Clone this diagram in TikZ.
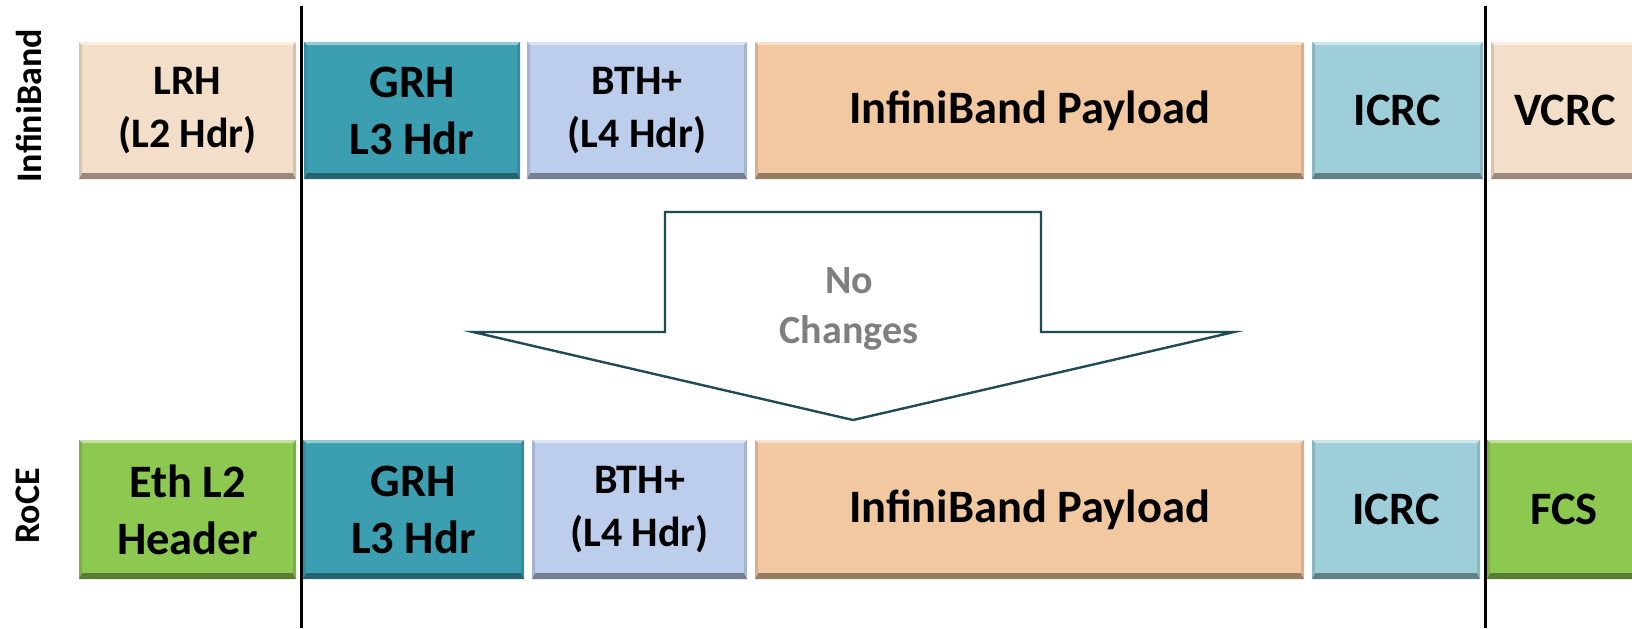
\documentclass[tikz,border=0pt]{standalone}
\usepackage{fontspec}
\setmainfont{Carlito}
\definecolor{cPeach}{HTML}{F3DFC9}
\definecolor{cTeal}{HTML}{3C9FB1}
\definecolor{cLav}{HTML}{BDCDEC}
\definecolor{cOrange}{HTML}{F1C8A0}
\definecolor{cIcrc}{HTML}{9ECED9}
\definecolor{cGreen}{HTML}{8DC850}
\definecolor{cArrow}{HTML}{1F4B56}
\definecolor{cGray}{HTML}{7F7F7F}
\def\ppb{path picture bounding box}
\tikzset{
  pkt/.style={fill=#1, draw=none, inner sep=0pt, outer sep=0pt, anchor=north west,
    align=center, text=black, font=\bfseries\fontsize{23.25}{28.5}\selectfont,
    path picture={
      \fill[#1!55!white] (\ppb.north west) -- (\ppb.north east) -- ([shift={(-1.5pt,-1.5pt)}]\ppb.north east) -- ([shift={(1.5pt,-1.5pt)}]\ppb.north west) -- cycle;
      \fill[#1!62!black] (\ppb.south west) -- (\ppb.south east) -- ([shift={(-1.5pt,3pt)}]\ppb.south east) -- ([shift={(1.5pt,3pt)}]\ppb.south west) -- cycle;
      \fill[#1!88!black] (\ppb.north west) -- ([shift={(1.5pt,-1.5pt)}]\ppb.north west) -- ([shift={(1.5pt,3pt)}]\ppb.south west) -- (\ppb.south west) -- cycle;
      \fill[#1!88!black] (\ppb.north east) -- ([shift={(-1.5pt,-1.5pt)}]\ppb.north east) -- ([shift={(-1.5pt,3pt)}]\ppb.south east) -- (\ppb.south east) -- cycle;
    }},
  small/.style={font=\bfseries\fontsize{21}{26.5}\selectfont},
  toprow/.style={minimum height=68.5pt},
  botrow/.style={minimum height=69.5pt},
  side/.style={rotate=90, font=\bfseries\fontsize{18}{21}\selectfont, inner sep=0pt},
  sepline/.style={line width=1.5pt, black},
  bigarrow/.style={draw=cArrow, line width=1.2pt, fill=white, line join=miter},
  arrowtext/.style={align=center, text=cGray, font=\bfseries\fontsize{20}{25}\selectfont, inner sep=0pt}
}
\begin{document}
\begin{tikzpicture}[x=0.5pt, y=-0.5pt]
\useasboundingbox (0,0) rectangle (1632,628);
\fill[white] (0,0) rectangle (1632,628);

% top row: InfiniBand
\node[pkt=cPeach, small, toprow, minimum width=108.5pt] (lrh) at (79,42) {LRH\\(L2 Hdr)};
\node[pkt=cTeal, toprow, minimum width=108pt] (grh1) at (304,42) {GRH\\L3 Hdr};
\node[pkt=cLav, small, toprow, minimum width=110pt] (bth1) at (527,42) {BTH+\\(L4 Hdr)};
\node[pkt=cOrange, toprow, minimum width=274.5pt] (pay1) at (755,42) {InfiniBand Payload};
\node[pkt=cIcrc, toprow, minimum width=85.5pt] (icrc1) at (1312,42) {ICRC};
\node[pkt=cPeach, toprow, minimum width=74pt] (vcrc) at (1491,42) {VCRC};

% bottom row: RoCE
\node[pkt=cGreen, botrow, minimum width=108.5pt] (eth) at (79,440) {Eth L2\\Header};
\node[pkt=cTeal, botrow, minimum width=110.5pt] (grh2) at (303,440) {GRH\\L3 Hdr};
\node[pkt=cLav, small, botrow, minimum width=107.5pt] (bth2) at (532,440) {BTH+\\(L4 Hdr)};
\node[pkt=cOrange, botrow, minimum width=274.5pt] (pay2) at (755,440) {InfiniBand Payload};
\node[pkt=cIcrc, botrow, minimum width=84pt] (icrc2) at (1312,440) {ICRC};
\node[pkt=cGreen, botrow, minimum width=77pt] (fcs) at (1487,440) {FCS};

% side labels
\node[side] (lblib) at (29,106) {InfiniBand};
\node[side] (lblroce) at (28,506) {RoCE};

% separators
\coordinate (s1t) at (301,6);
\coordinate (s1b) at (301,628);
\coordinate (s2t) at (1485,6);
\coordinate (s2b) at (1485,628);
\draw[sepline] (s1t) -- (s1b);
\draw[sepline] (s2t) -- (s2b);

% big down arrow
\draw[bigarrow] (665,212) -- (1041,212) -- (1041,332) -- (1234,332) -- (853,420) -- (473,332) -- (665,332) -- cycle;
\node[arrowtext] (nochg) at (849,309) {No\\Changes};
\end{tikzpicture}
\end{document}
